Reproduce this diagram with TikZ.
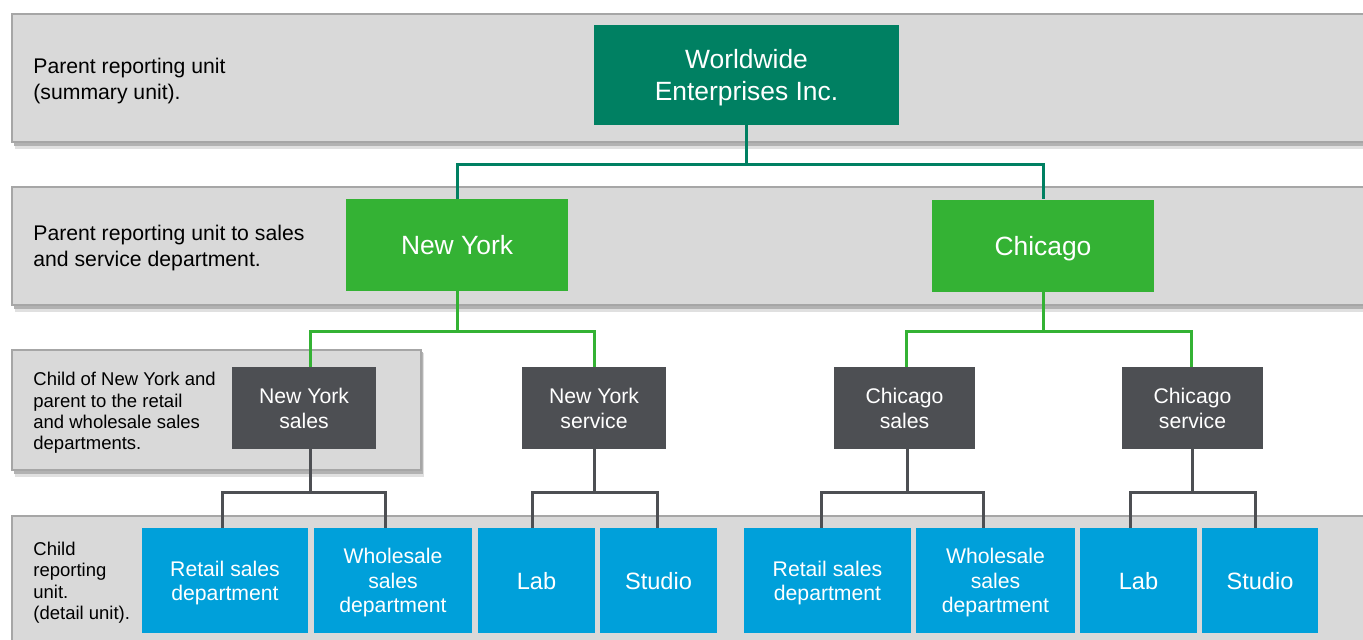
\documentclass[tikz,border=0pt]{standalone}
\usepackage{fontspec}
\setmainfont{Liberation Sans}
\usetikzlibrary{calc}
\definecolor{tealc}{RGB}{0,128,98}
\definecolor{greenc}{RGB}{52,178,52}
\definecolor{darkc}{RGB}{77,79,83}
\definecolor{bluec}{RGB}{0,160,218}
\definecolor{bandfill}{RGB}{217,217,217}
\definecolor{bandedge}{RGB}{166,166,166}
\newcommand{\bandbox}[4]{%
  \fill[black!12] (#1+3,#2+3) rectangle (#3+3,#4+7);
  \fill[black!30] (#1+2,#2+2) rectangle (#3+2,#4+4);
  \filldraw[fill=bandfill, draw=bandedge, line width=0.8pt] (#1,#2) rectangle (#3,#4);
}
\tikzset{
  box/.style={inner sep=0pt, align=center, text=white, text depth=0pt},
  tealbox/.style={box, fill=tealc, font=\fontsize{13.2}{16}\selectfont},
  greenbox/.style={box, fill=greenc, font=\fontsize{13.2}{16}\selectfont},
  darkbox/.style={box, fill=darkc, font=\fontsize{10.6}{12.5}\selectfont},
  bluebox/.style={box, fill=bluec, font=\fontsize{10.6}{12.2}\selectfont},
  bluebig/.style={box, fill=bluec, font=\fontsize{11.8}{14}\selectfont},
  bandlabel/.style={inner sep=0pt, align=left, anchor=west, text=black},
  biglabel/.style={bandlabel, font=\fontsize{10.6}{13}\selectfont},
  smalllabel/.style={bandlabel, font=\fontsize{9.25}{10.7}\selectfont},
  tealline/.style={draw=tealc, line width=1.5pt},
  greenline/.style={draw=greenc, line width=1.5pt},
  darkline/.style={draw=darkc, line width=1.5pt},
}
\begin{document}
\begin{tikzpicture}[x=0.5pt,y=-0.5pt]
\useasboundingbox (0,0) rectangle (1363,639);
\fill[white] (0,0) rectangle (1363,639);
% bands
\bandbox{12}{14}{1375}{142}
\bandbox{12}{187}{1375}{305}
\bandbox{12}{350}{421}{470}
\bandbox{12}{516}{1375}{660}
% band labels
\node[biglabel] (l1) at (33,81) {Parent reporting unit\\(summary unit).};
\node[biglabel] (l2) at (33,248) {Parent reporting unit to sales\\and service department.};
\node[smalllabel] (l3) at (33,413) {Child of New York and\\parent to the retail\\and wholesale sales\\departments.};
\node[smalllabel] (l4) at (33,582.5) {Child\\reporting\\unit.\\(detail unit).};
% nodes
\node[tealbox, minimum width=152.5pt, minimum height=50pt] (ww) at (746.5,75) {Worldwide\\Enterprises Inc.};
\node[greenbox, minimum width=111pt, minimum height=46pt] (ny) at (457,245) {New York};
\node[greenbox, minimum width=111pt, minimum height=46pt] (chi) at (1043,245.5) {Chicago};
\node[darkbox, minimum width=72pt, minimum height=41pt] (nys) at (304,408) {New York\\sales};
\node[darkbox, minimum width=72pt, minimum height=41pt] (nysv) at (594,408) {New York\\service};
\node[darkbox, minimum width=70.5pt, minimum height=41pt] (chs) at (904.5,408) {Chicago\\sales};
\node[darkbox, minimum width=70.5pt, minimum height=41pt] (chsv) at (1192.5,408) {Chicago\\service};
\node[bluebox, minimum width=83pt, minimum height=52.5pt] (r1) at (225,580.5) {Retail sales\\department};
\node[bluebox, minimum width=79pt, minimum height=52.5pt] (w1) at (393,580.5) {Wholesale\\sales\\department};
\node[bluebig, minimum width=58.5pt, minimum height=52.5pt] (lab1) at (536.5,580.5) {Lab};
\node[bluebig, minimum width=58.5pt, minimum height=52.5pt] (st1) at (658.5,580.5) {Studio};
\node[bluebox, minimum width=83.5pt, minimum height=52.5pt] (r2) at (827.5,580.5) {Retail sales\\department};
\node[bluebox, minimum width=79.5pt, minimum height=52.5pt] (w2) at (995.5,580.5) {Wholesale\\sales\\department};
\node[bluebig, minimum width=58.5pt, minimum height=52.5pt] (lab2) at (1138.5,580.5) {Lab};
\node[bluebig, minimum width=58pt, minimum height=52.5pt] (st2) at (1260,580.5) {Studio};
% connectors
\draw[tealline] (ww.south) -- ++(0,39) coordinate (wj);
\draw[tealline] (ny.north) |- (wj) -| (chi.north);
\draw[greenline] (ny.south) -- ++(0,40) coordinate (nyj);
\draw[greenline] ($(nys.north)+(6,0)$) |- (nyj) -| (nysv.north);
\draw[greenline] (chi.south) -- ++(0,39.5) coordinate (chj);
\draw[greenline] ($(chs.north)+(1.5,0)$) |- (chj) -| ($(chsv.north)+(-1.5,0)$);
\draw[darkline] ($(nys.south)+(6,0)$) -- ++(0,43) coordinate (nysj);
\draw[darkline] ($(r1.north)+(-3,0)$) |- (nysj) -| ($(w1.north)+(-8,0)$);
\draw[darkline] (nysv.south) -- ++(0,43) coordinate (nysvj);
\draw[darkline] ($(lab1.north)+(-4.5,0)$) |- (nysvj) -| ($(st1.north)+(-1.5,0)$);
\draw[darkline] ($(chs.south)+(2.5,0)$) -- ++(0,43) coordinate (chsj);
\draw[darkline] ($(r2.north)+(-6.5,0)$) |- (chsj) -| ($(w2.north)+(-12.5,0)$);
\draw[darkline] (chsv.south) -- ++(0,43) coordinate (chsvj);
\draw[darkline] ($(lab2.north)+(-8.5,0)$) |- (chsvj) -| ($(st2.north)+(-5,0)$);
\end{tikzpicture}
\end{document}
